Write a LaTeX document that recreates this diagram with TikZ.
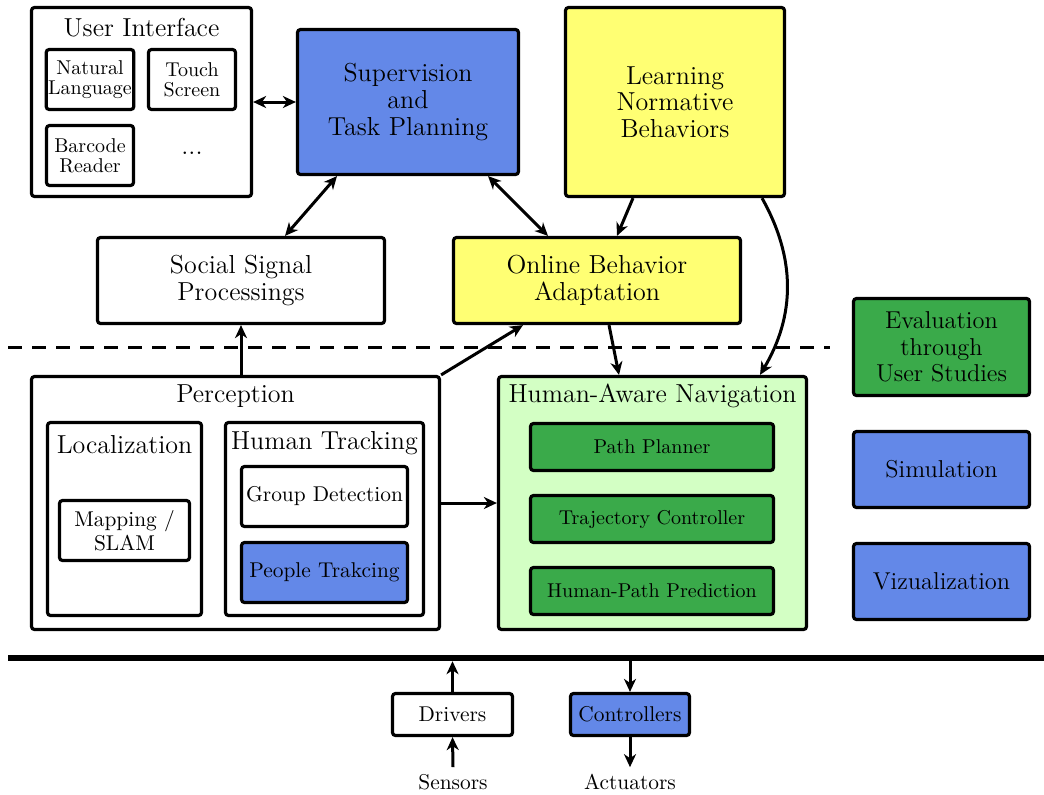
\documentclass[tikz,border=0pt]{standalone}
\usetikzlibrary{arrows.meta, calc}

\definecolor{planblue}{RGB}{99,136,232}
\definecolor{learnyellow}{RGB}{255,255,115}
\definecolor{navgreen}{RGB}{58,170,74}
\definecolor{navlight}{RGB}{211,255,196}

\begin{document}
\begin{tikzpicture}[
    x=0.5pt, y=-0.5pt,
    >={Stealth[length=6.5pt, width=6pt, inset=2pt]},
    every node/.style={font=\fontsize{13}{13.3}\selectfont},
    box/.style={
        rectangle,
        rounded corners=1.5pt,
        draw=black,
        line width=1.6pt,
        align=center,
        inner sep=1pt
    },
    bluebox/.style={box, fill=planblue},
    yellowbox/.style={box, fill=learnyellow},
    greenbox/.style={box, fill=navgreen},
    smallbox/.style={box, font=\fontsize{10}{10}\selectfont},
    midbox/.style={box, font=\fontsize{10.7}{12}\selectfont},
    sidebox/.style={box, font=\fontsize{12.2}{13.3}\selectfont},
    title/.style={inner sep=0pt},
    arrow/.style={line width=1.5pt, ->},
    biarrow/.style={line width=1.5pt, <->}
]
\useasboundingbox (0,0) rectangle (1044,794);

% User interface
\node[box, minimum width=110pt, minimum height=94.5pt] (ui) at (141.5,102) {};
\node[title] (uititle) at (141.5,28) {User Interface};
\node[smallbox, minimum width=43.5pt, minimum height=30pt] (natlang) at (90,79.5) {Natural\\Language};
\node[smallbox, minimum width=43.5pt, minimum height=30pt] (touch) at (192,79.5) {Touch\\Screen};
\node[smallbox, minimum width=43.5pt, minimum height=30pt] (barcode) at (90,155.5) {Barcode\\Reader};
\node[title] (uidots) at (192,153) {...};

% Planning and learning
\node[bluebox, minimum width=110.5pt, minimum height=72.5pt] (sup) at (408,102) {Supervision\\and\\Task Planning};
\node[yellowbox, minimum width=109.5pt, minimum height=94.5pt] (learn) at (675,102) {Learning\\Normative\\Behaviors};
\node[box, minimum width=143.5pt, minimum height=43pt] (social) at (241,280.5) {Social Signal\\Processings};
\node[yellowbox, minimum width=143.5pt, minimum height=43pt] (online) at (597,280.5) {Online Behavior\\Adaptation};

% Separator
\draw[line width=1.5pt, dash pattern=on 7pt off 5pt] (8,347) -- (830,347);

% Perception
\node[box, minimum width=204pt, minimum height=126.5pt] (perc) at (235.5,503) {};
\node[title] (perctitle) at (235.5,396) {Perception};
\node[box, minimum width=77pt, minimum height=96.5pt] (loc) at (124.5,519) {};
\node[title] (loctitle) at (124.5,445) {Localization};
\node[midbox, minimum width=65pt, minimum height=30pt] (slam) at (124.5,530.5) {Mapping /\\SLAM};
\node[box, minimum width=99pt, minimum height=96.5pt] (track) at (324.5,519) {};
\node[title] (tracktitle) at (324.5,443) {Human Tracking};
\node[midbox, minimum width=83pt, minimum height=30pt] (group) at (324.5,496.5) {Group Detection};
\node[midbox, fill=planblue, minimum width=83pt, minimum height=30pt] (people) at (324.5,572.5) {People Trakcing};

% Navigation
\node[box, fill=navlight, minimum width=154pt, minimum height=126.5pt] (nav) at (652.5,503) {};
\node[title] (navtitle) at (652.5,396) {Human-Aware Navigation};
\node[smallbox, fill=navgreen, minimum width=121.5pt, minimum height=23.5pt] (path) at (652,447) {Path Planner};
\node[smallbox, fill=navgreen, minimum width=121.5pt, minimum height=23.5pt] (traj) at (652,519) {Trajectory Controller};
\node[smallbox, fill=navgreen, minimum width=121.5pt, minimum height=23.5pt] (pred) at (652,591) {Human-Path Prediction};

% Side boxes
\node[sidebox, fill=navgreen, minimum width=88pt, minimum height=48.5pt] (eval) at (941.5,347) {Evaluation\\through\\User Studies};
\node[sidebox, fill=planblue, minimum width=88pt, minimum height=38pt] (sim) at (941.5,469.5) {Simulation};
\node[sidebox, fill=planblue, minimum width=88pt, minimum height=38pt] (viz) at (941.5,581.5) {Vizualization};

% Hardware bus
\coordinate (busL) at (8,658);
\coordinate (busR) at (1044,658);
\draw[line width=3.2pt] (busL) -- (busR);
\node[midbox, minimum width=60pt, minimum height=21pt] (drivers) at (452.5,714.5) {Drivers};
\node[midbox, fill=planblue, minimum width=59.5pt, minimum height=21pt] (ctrl) at (630,714.5) {Controllers};
\node[font=\fontsize{10.7}{12}\selectfont] (sensors) at (453,782) {Sensors};
\node[font=\fontsize{10.7}{12}\selectfont] (actuators) at (630,782) {Actuators};

% Arrows
\draw[biarrow] (ui.east) -- (sup.west);
\draw[biarrow] ($(sup.south)+(-71,0)$) -- ($(social.north)+(44,0)$);
\draw[biarrow] ($(sup.south)+(80,0)$) -- ($(online.north)+(-49,0)$);
\draw[arrow] ($(learn.south)+(-42,0)$) -- ($(online.north)+(20,0)$);
\draw[arrow] ($(learn.south)+(87,0)$) to[bend left=30] ($(nav.north)+(107.5,0)$);
\draw[arrow] ($(online.south)+(12,0)$) -- ($(nav.north)+(-33.5,0)$);
\draw[arrow] (perc.north -| social.south) -- (social.south);
\draw[arrow] (perc.north east) -- ($(online.south)+(-74,0)$);
\draw[arrow] (perc.east) -- (nav.west);
\draw[arrow, shorten >=1.6pt] (drivers.north) -- (drivers.north |- busL);
\draw[arrow, shorten <=1.6pt] (ctrl.north |- busL) -- (ctrl.north);
\draw[arrow] (sensors.north) -- (drivers.south);
\draw[arrow] (ctrl.south) -- (actuators.north);

\end{tikzpicture}
\end{document}
